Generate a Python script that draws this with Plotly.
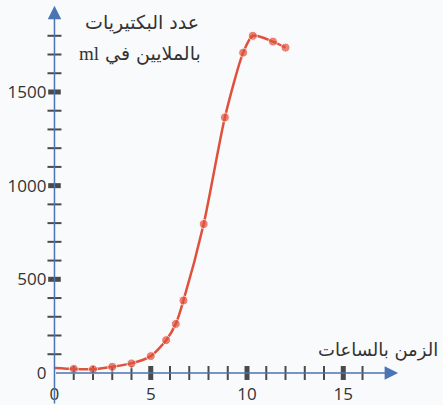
import plotly.graph_objects as go

# ---- data ----
hours = [0, 1, 2, 3, 4, 5, 5.8, 6.3, 6.7, 7.75, 8.85, 9.8, 10.3, 11.35, 12.0]
counts = [27, 22, 20, 33, 51, 90, 175, 262, 387, 795, 1364, 1710, 1800, 1769, 1737]
has_marker = [False] + [True] * (len(hours) - 1)

x_major = [5, 10, 15]
x_minor = [h for h in range(1, 17) if h not in x_major]
y_major = [500, 1000, 1500]
y_minor = [v for v in range(100, 1900, 100) if v not in y_major]
x_ticklabels = [0, 5, 10, 15]
y_ticklabels = [0, 500, 1000, 1500]

y_title_1 = "عدد البكتيريات"
y_title_2 = "<span style='font-family:Liberation Serif'>ml</span> بالملايين في"
x_title = "الزمن بالساعات"

# ---- style ----
W, H = 443, 405
X_RANGE = [-2.83, 20.18]
Y_RANGE = [-171, 1991]
AXIS_BLUE = "#4a74b4"
TICK_GREY = "#4a4a4a"
CURVE = "#e0513b"
BG = "#f9fafb"

def paper_x(v):
    return (v - X_RANGE[0]) / (X_RANGE[1] - X_RANGE[0])

def paper_y(v):
    return (v - Y_RANGE[0]) / (Y_RANGE[1] - Y_RANGE[0])

fig = go.Figure()

# tick marks crossing the axes
fig.add_trace(go.Scatter(x=[0] * len(y_minor), y=y_minor, mode="markers",
                         marker=dict(symbol="line-ew", size=10, line=dict(color=TICK_GREY, width=2)),
                         hoverinfo="skip", cliponaxis=False))
fig.add_trace(go.Scatter(x=[0] * len(y_major), y=y_major, mode="markers",
                         marker=dict(symbol="line-ew", size=9, line=dict(color=TICK_GREY, width=5)),
                         hoverinfo="skip", cliponaxis=False))
fig.add_trace(go.Scatter(x=x_minor, y=[0] * len(x_minor), mode="markers",
                         marker=dict(symbol="line-ns", size=10, line=dict(color=TICK_GREY, width=2)),
                         hoverinfo="skip", cliponaxis=False))
fig.add_trace(go.Scatter(x=x_major, y=[0] * len(x_major), mode="markers",
                         marker=dict(symbol="line-ns", size=10, line=dict(color=TICK_GREY, width=5)),
                         hoverinfo="skip", cliponaxis=False))

# growth curve
fig.add_trace(go.Scatter(
    x=hours, y=counts, mode="lines+markers",
    line=dict(color=CURVE, width=2.5, shape="spline", smoothing=0.7),
    marker=dict(color=CURVE, size=[9 if m else 0 for m in has_marker]),
    hoverinfo="skip", cliponaxis=False))

# axis arrows
fig.add_annotation(x=0, y=1960, ax=0, ay=Y_RANGE[0], xref="x", yref="y", axref="x", ayref="y",
                   text="", showarrow=True, arrowhead=2, arrowsize=1.8, arrowwidth=1.5,
                   arrowcolor=AXIS_BLUE)
fig.add_annotation(x=17.85, y=0, ax=0, ay=0, xref="x", yref="y", axref="x", ayref="y",
                   text="", showarrow=True, arrowhead=2, arrowsize=1.8, arrowwidth=1.5,
                   arrowcolor=AXIS_BLUE)

# titles
title_font = dict(family="DejaVu Sans, Noto Sans", size=19, color="#333333")
fig.add_annotation(x=201 / W, y=1 - 22 / H, xref="paper", yref="paper", text=y_title_1,
                   showarrow=False, xanchor="right", yanchor="middle", font=title_font)
fig.add_annotation(x=203 / W, y=1 - 53 / H, xref="paper", yref="paper", text=y_title_2,
                   showarrow=False, xanchor="right", yanchor="middle", font=title_font)
fig.add_annotation(x=440 / W, y=1 - 350 / H, xref="paper", yref="paper", text=x_title,
                   showarrow=False, xanchor="right", yanchor="middle",
                   font=dict(family="DejaVu Sans, Noto Sans", size=18, color="#333333"))

tick_font = dict(family="Open Sans, Liberation Sans", size=17, color="#333333")
fig.update_layout(
    width=W, height=H, margin=dict(l=0, r=0, t=0, b=0),
    paper_bgcolor=BG, plot_bgcolor=BG, showlegend=False,
    xaxis=dict(range=X_RANGE, domain=[0, 1], anchor="free", position=paper_y(0),
               showgrid=False, zeroline=False, showline=False, ticks="",
               tickvals=x_ticklabels, ticktext=[str(v) for v in x_ticklabels],
               tickfont=tick_font, ticklabelstandoff=9, automargin=False, fixedrange=True),
    yaxis=dict(range=Y_RANGE, domain=[0, 1], anchor="free", position=paper_x(0),
               showgrid=False, zeroline=False, showline=False, ticks="",
               tickvals=y_ticklabels, ticktext=[str(v) for v in y_ticklabels],
               tickfont=tick_font, ticklabelstandoff=8, automargin=False, fixedrange=True),
)

fig.write_html("out.html", config={"displayModeBar": False},
               post_script="document.body.style.margin='0px';document.body.style.background='%s';" % BG)
